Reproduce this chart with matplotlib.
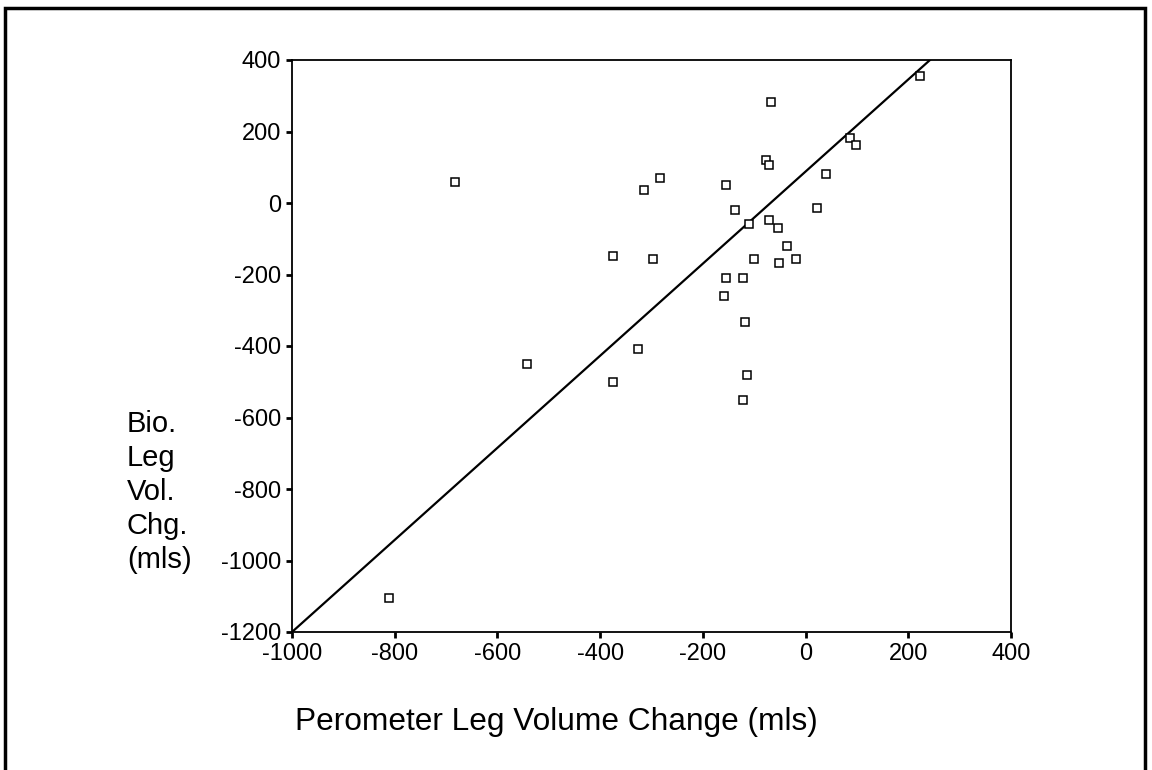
import numpy as np
import matplotlib
matplotlib.use("Agg")
import matplotlib.pyplot as plt
from matplotlib.patches import Rectangle

plt.rcParams['font.family'] = ['Liberation Sans', 'DejaVu Sans']
plt.rcParams['axes.unicode_minus'] = False

# perometer change (x) vs bio-impedance change (y), mls
perometer = [-68, 223, 86, 98, -77, -71, -283, -315, -154, 40,
             -138, 22, -111, -71, -53, -36, -374, -298, -100, -51,
             -18, -154, -121, -159, -117, -326, -682, -542, -374, -811,
             -115, -121]
bio = [282, 356, 182, 162, 120, 105, 70, 37, 50, 80,
       -20, -13, -60, -48, -69, -119, -148, -158, -158, -169,
       -158, -209, -209, -259, -334, -409, 58, -451, -500, -1105,
       -480, -550]

# line drawn on the chart
fit_slope = 1.288
fit_intercept = 88

x_ticks = [-1000, -800, -600, -400, -200, 0, 200, 400]
y_ticks = [-1200, -1000, -800, -600, -400, -200, 0, 200, 400]

W, H = 1152, 770
fig = plt.figure(figsize=(W / 100, H / 100), dpi=100)
ax = fig.add_axes([292 / W, 1 - 632 / H, (1011 - 292) / W, (632 - 60) / H])

xs = np.array([x_ticks[0], x_ticks[-1]])
ax.plot(xs, fit_slope * xs + fit_intercept, color='black', lw=1.6)
ax.plot(perometer, bio, linestyle='none', marker='s', ms=5.5,
        mfc='white', mec='black', mew=1.1)

ax.set_xlim(x_ticks[0], x_ticks[-1])
ax.set_ylim(y_ticks[0], y_ticks[-1])
ax.set_xticks(x_ticks)
ax.set_yticks(y_ticks)
ax.tick_params(direction='out', length=4, width=2, labelsize=17, pad=4)
for s in ax.spines.values():
    s.set_linewidth(1.3)

fig.text(127 / W, 1 - 492 / H, "Bio.\nLeg\nVol.\nChg.\n(mls)", fontsize=21,
         ha='left', va='center', linespacing=1.28)
fig.text(295 / W, 1 - 730 / H, "Perometer Leg Volume Change (mls)",
         fontsize=22.8, ha='left', va='baseline')

# frame round the figure (bottom edge is cut off in the original)
fig.add_artist(Rectangle((5 / W, -0.1), (1145 - 5) / W, 1.1 - 8 / H,
                         transform=fig.transFigure, fill=False,
                         lw=2.5, edgecolor='black'))

fig.savefig("out.png", dpi=100)
